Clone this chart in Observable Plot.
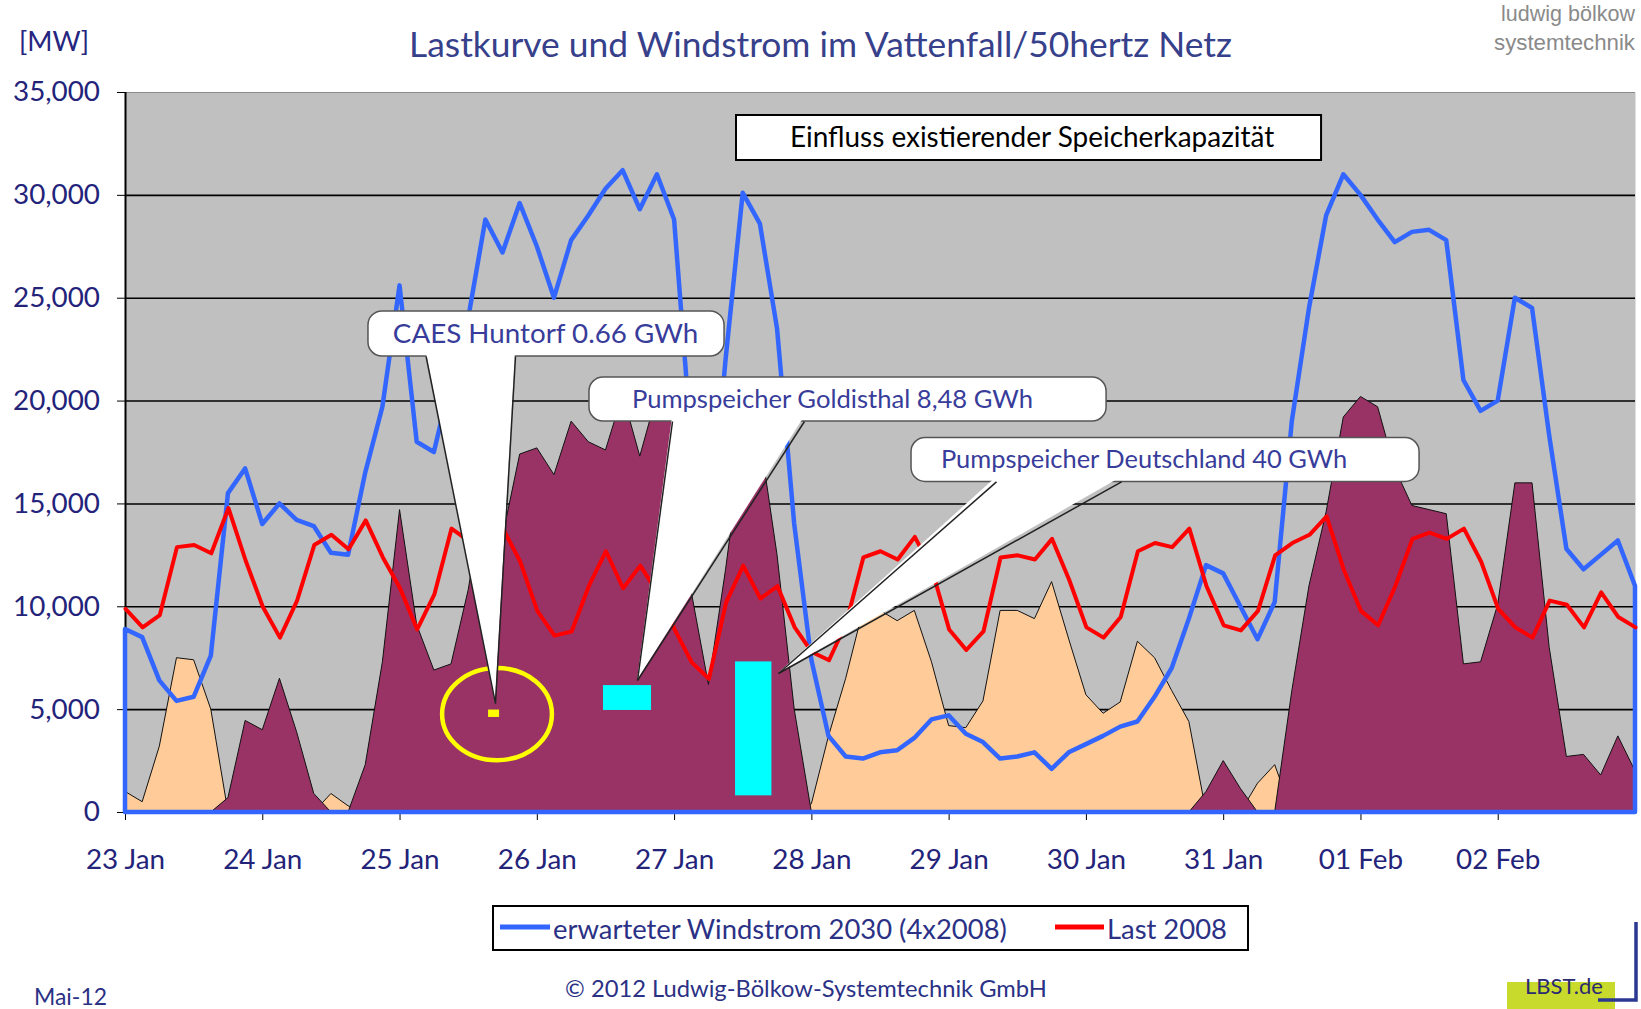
<!DOCTYPE html>
<html><head><meta charset="utf-8">
<script src="https://cdn.jsdelivr.net/npm/d3@7"></script>
<script src="https://cdn.jsdelivr.net/npm/@observablehq/plot@0.6"></script>
<style>
html,body{margin:0;padding:0;background:#fff;}
#page{width:1641px;height:1009px;overflow:hidden;position:relative;background:#fff;}
svg{display:block;}
#chart [aria-label^="x-axis"] text, #chart [aria-label^="y-axis"] text{fill:#23237a;}
</style></head><body>
<div id="page">
<svg id="header" width="1641" height="70"></svg>
<div id="chart"></div>
<svg id="footer" width="1641" height="127"></svg>
</div>
<script>
// ---------------- data ----------------
const startDay = Date.UTC(2008, 0, 23);
const stepHours = 3;
const xTickLabels = ["23 Jan","24 Jan","25 Jan","26 Jan","27 Jan","28 Jan","29 Jan","30 Jan","31 Jan","01 Feb","02 Feb"];
const yTickValues = [0, 5000, 10000, 15000, 20000, 25000, 30000, 35000];

// erwarteter Windstrom 2030 (4x2008), MW, every 3 h from 23 Jan 00:00
const windMW = [
  8900, 8500, 6400, 5400, 5600, 7600, 15500, 16700,
  14000, 15000, 14200, 13900, 12600, 12500, 16500, 19700,
  25600, 18000, 17500, 21000, 24000, 28800, 27200, 29600,
  27500, 25000, 27800, 29000, 30300, 31200, 29300, 31000,
  28800, 18000, 12700, 22000, 30100, 28600, 23500, 14000,
  7400, 3700, 2700, 2600, 2900, 3000, 3600, 4500,
  4700, 3800, 3400, 2600, 2700, 2900, 2100, 2900,
  3300, 3700, 4150, 4400, 5600, 7000, 9400, 12000,
  11600, 10000, 8400, 10200, 19000, 24500, 29000, 31000,
  30000, 28800, 27700, 28200, 28300, 27800, 21000, 19500,
  20000, 25000, 24500, 18300, 12800, 11800, 12500, 13200,
  11000
];
// Last 2008, MW
const loadMW = [
  9900, 9000, 9600, 12900, 13000, 12600, 14800, 12250,
  10000, 8500, 10300, 13000, 13500, 12800, 14200, 12400,
  10900, 8900, 10600, 13800, 13200, 13000, 13800, 12200,
  9800, 8600, 8800, 11000, 12700, 10900, 12000, 10700,
  8900, 7300, 6500, 10200, 12000, 10400, 11000, 9000,
  7800, 7400, 9200, 12400, 12700, 12300, 13400, 11800,
  8900, 7900, 8800, 12400, 12500, 12300, 13300, 11300,
  9000, 8500, 9500, 12700, 13100, 12900, 13800, 11000,
  9100, 8850, 9800, 12500, 13100, 13500, 14400, 11800,
  9800, 9100, 11000, 13300, 13600, 13300, 13800, 12200,
  9900, 9000, 8500, 10300, 10100, 9000, 10700, 9500,
  9000
];

// storage capacities drawn as energy blocks (day offsets, MW)
const storageBars = [
  {name: "Pumpspeicher Goldisthal 8,48 GWh", d1: 3.482, d2: 3.832, mw1: 4960, mw2: 6170},
  {name: "Pumpspeicher Deutschland 40 GWh", d1: 4.444, d2: 4.709, mw1: 810, mw2: 7320}
];
const caesBlock = [{name: "CAES Huntorf 0.66 GWh", d1: 2.645, d2: 2.725, mw1: 4620, mw2: 4980}];
const caesRing = {d: 2.71, mw: 4760, rd: 0.40, rmw: 2240};

// annotation callouts (day offsets, MW)
const callouts = [
  {id: 0, label: "CAES Huntorf 0.66 GWh", d1: 1.770, d2: 4.364, mwTop: 24355, mwBot: 22167, textD: 3.06, baseD1: 2.19, baseD2: 2.841, tipD: 2.695, tipMW: 5300},
  {id: 1, label: "Pumpspeicher Goldisthal 8,48 GWh", d1: 3.380, d2: 7.147, mwTop: 21146, mwBot: 19007, textD: 5.15, baseD1: 3.985, baseD2: 4.946, tipD: 3.730, tipMW: 6417},
  {id: 2, label: "Pumpspeicher Deutschland 40 GWh", d1: 5.726, d2: 9.427, mwTop: 18205, mwBot: 16071, textD: 7.42, baseD1: 6.345, baseD2: 7.256, tipD: 4.757, tipMW: 6757}
];
const headline = [{label: "Einfluss existierender Speicherkapazität", d1: 4.451, d2: 8.713, mwTop: 33882, mwBot: 31695, textD: 6.604}];

const titleText = "Lastkurve und Windstrom im Vattenfall/50hertz Netz";
const legendItems = ["erwarteter Windstrom 2030 (4x2008)", "Last 2008"];

// ---------------- styles ----------------
const FONT = "Lato, 'Noto Sans', sans-serif";
const SANS = "'Liberation Sans', Arial, sans-serif";
const NAVY = "#2b3185";
const textWidths = {
  "CAES Huntorf 0.66 GWh": 306,
  "Pumpspeicher Goldisthal 8,48 GWh": 402,
  "Pumpspeicher Deutschland 40 GWh": 407,
  "Einfluss existierender Speicherkapazität": 485
};

const ns = "http://www.w3.org/2000/svg";
const ctx = document.createElement("canvas").getContext("2d");
function fitSize(text, width, family = FONT, weight = "normal") {
  ctx.font = `${weight} 100px ${family}`;
  return 100 * width / ctx.measureText(text).width;
}
function addText(svg, o) {
  const t = document.createElementNS(ns, "text");
  t.textContent = o.text;
  t.setAttribute("x", o.x); t.setAttribute("y", o.y);
  t.setAttribute("text-anchor", o.anchor || "start");
  t.setAttribute("font-family", o.family || FONT);
  t.setAttribute("font-size", o.size);
  if (o.weight) t.setAttribute("font-weight", o.weight);
  t.setAttribute("fill", o.fill || "#000");
  svg.appendChild(t);
  return t;
}
function addEl(svg, tag, attrs) {
  const e = document.createElementNS(ns, tag);
  for (const k in attrs) e.setAttribute(k, attrs[k]);
  svg.appendChild(e);
  return e;
}

// ---------------- header ----------------
const header = document.getElementById("header");
addText(header, {text: "[MW]", x: 19, y: 51, size: fitSize("[MW]", 70), fill: "#262680"});
addText(header, {text: titleText, x: 820.5, y: 57, anchor: "middle", size: fitSize(titleText, 825), fill: "#37408a"});
addText(header, {text: "ludwig bölkow", x: 1635, y: 21, anchor: "end", family: SANS, size: fitSize("ludwig bölkow", 134, SANS), fill: "#8a8a8a"});
addText(header, {text: "systemtechnik", x: 1635, y: 50, anchor: "end", family: SANS, size: fitSize("systemtechnik", 141, SANS), fill: "#8a8a8a"});

// ---------------- chart ----------------
const day = d => new Date(startDay + d * 864e5);
const rows = windMW.map((w, i) => ({
  t: new Date(startDay + i * stepHours * 36e5),
  wind: w, load: loadMW[i],
  surplus: Math.max(w - loadMW[i], 0),
  deficit: Math.max(loadMW[i] - w, 0)
}));
const wedgePts = callouts.flatMap(c => [
  {id: c.id, mw: c.mwBot + 220, xa: day(c.baseD1), xb: day(c.baseD2)},
  {id: c.id, mw: c.tipMW, xa: day(c.tipD), xb: day(c.tipD)}
]);

const Fx = fitSize("23 Jan", 80);
const Fy = fitSize("35,000", 87);
const padX = 868 - 820 - 0.71 * Fx;

const W = 1641, H = 812, ML = 125, MR = 6, MT = 22, MB = 70;
const fallbackX = d3.scaleUtc().domain([day(0), day(11)]).range([ML, W - MR]);
const fallbackY = d3.scaleLinear().domain([0, 35000]).range([H - MB, MT]);

function ringMark(index, scales) {
  const X = scales && typeof scales.x === "function" ? scales.x : fallbackX;
  const Y = scales && typeof scales.y === "function" ? scales.y : fallbackY;
  const cx = X(day(caesRing.d)), cy = Y(caesRing.mw);
  const e = document.createElementNS(ns, "ellipse");
  e.setAttribute("cx", cx); e.setAttribute("cy", cy);
  e.setAttribute("rx", Math.abs(X(day(caesRing.d + caesRing.rd)) - cx));
  e.setAttribute("ry", Math.abs(Y(caesRing.mw + caesRing.rmw) - cy));
  e.setAttribute("fill", "none"); e.setAttribute("stroke", "#ffff00"); e.setAttribute("stroke-width", 4.5);
  return e;
}

const calloutTexts = callouts.map(c => Plot.text([c], {
  x: d => day(d.textD), y: d => (d.mwTop + d.mwBot) / 2, text: "label",
  fill: "#383c9a", fontSize: fitSize(c.label, textWidths[c.label]), textAnchor: "middle"
}));

const chart = Plot.plot({
  width: W, height: H, marginLeft: ML, marginRight: MR, marginTop: MT, marginBottom: MB,
  style: {fontFamily: FONT, fontSize: Fy + "px", color: "#000", background: "transparent", overflow: "visible"},
  x: {type: "utc", domain: [day(0), day(11)], ticks: xTickLabels.map((_, i) => day(i)),
      tickFormat: d => xTickLabels[Math.round((+d - startDay) / 864e5)], tickSize: 8, tickPadding: padX, label: null},
  y: {domain: [0, 35000], ticks: yTickValues, tickFormat: d3.format(","), tickSize: 8, tickPadding: 17.5, label: null},
  marks: [
    Plot.frame({fill: "#c0c0c0", stroke: "none"}),
    Plot.ruleY([35000], {stroke: "#8c8c8c", strokeWidth: 1}),
    Plot.ruleY(yTickValues.filter(v => v > 0 && v < 35000), {stroke: "#000", strokeWidth: 1.6}),
    Plot.ruleX([day(0)], {stroke: "#000", strokeWidth: 2}),
    Plot.areaY(rows, {x: "t", y: "deficit", fill: "#ffcc99", stroke: "#111", strokeWidth: 1}),
    Plot.areaY(rows, {x: "t", y: "surplus", fill: "#993366", stroke: "#111", strokeWidth: 1}),
    Plot.areaY(rows, {x: "t", y: "wind", fill: "none", stroke: "#3366ff", strokeWidth: 4.5, strokeLinejoin: "round"}),
    Plot.line(rows, {x: "t", y: "load", stroke: "#ff0000", strokeWidth: 4, strokeLinejoin: "round"}),
    Plot.rect(storageBars, {x1: d => day(d.d1), x2: d => day(d.d2), y1: "mw1", y2: "mw2", fill: "#00ffff"}),
    ringMark,
    Plot.rect(caesBlock, {x1: d => day(d.d1), x2: d => day(d.d2), y1: "mw1", y2: "mw2", fill: "#ffff00"}),
    Plot.rect(callouts, {x1: d => day(d.d1), x2: d => day(d.d2), y1: "mwBot", y2: "mwTop", fill: "#fff", stroke: "#555", strokeWidth: 1.5, rx: 14}),
    Plot.areaX(wedgePts, {y: "mw", x1: "xa", x2: "xb", z: "id", fill: "#fff"}),
    Plot.link(callouts, {x1: d => day(d.baseD1), y1: "mwBot", x2: d => day(d.tipD), y2: "tipMW", stroke: "#222", strokeWidth: 1.5}),
    Plot.link(callouts, {x1: d => day(d.baseD2), y1: "mwBot", x2: d => day(d.tipD), y2: "tipMW", stroke: "#222", strokeWidth: 1.5}),
    ...calloutTexts,
    Plot.rect(headline, {x1: d => day(d.d1), x2: d => day(d.d2), y1: "mwBot", y2: "mwTop", fill: "#fff", stroke: "#000", strokeWidth: 2}),
    Plot.text(headline, {x: d => day(d.textD), y: d => (d.mwTop + d.mwBot) / 2, text: "label", fill: "#000",
      fontSize: fitSize(headline[0].label, textWidths[headline[0].label]), textAnchor: "middle"})
  ]
});
document.getElementById("chart").appendChild(chart);
const styleEl = document.createElement("style");
styleEl.textContent = `#chart [aria-label^="x-axis"] text{font-size:${Fx}px;} #chart [aria-label^="y-axis"] text{font-size:${Fy}px;}`;
document.head.appendChild(styleEl);

// ---------------- footer (legend + credits) ----------------
const footer = document.getElementById("footer");
const oy = 882;
addEl(footer, "rect", {x: 493, y: 906 - oy, width: 755, height: 44, fill: "#fff", stroke: "#000", "stroke-width": 2});
addEl(footer, "line", {x1: 500, x2: 550, y1: 927 - oy, y2: 927 - oy, stroke: "#3366ff", "stroke-width": 5});
addText(footer, {text: legendItems[0], x: 553, y: 939 - oy, size: fitSize(legendItems[0], 455), fill: NAVY});
addEl(footer, "line", {x1: 1055, x2: 1104, y1: 927 - oy, y2: 927 - oy, stroke: "#ff0000", "stroke-width": 5});
addText(footer, {text: legendItems[1], x: 1107, y: 939 - oy, size: fitSize(legendItems[1], 120), fill: NAVY});
const copyText = "© 2012 Ludwig-Bölkow-Systemtechnik GmbH";
addText(footer, {text: copyText, x: 806, y: 997 - oy, anchor: "middle", size: fitSize(copyText, 482), fill: NAVY});
addText(footer, {text: "Mai-12", x: 34, y: 1005 - oy, size: fitSize("Mai-12", 73), fill: NAVY});
addEl(footer, "rect", {x: 1507, y: 982 - oy, width: 108, height: 27, fill: "#c8da2c"});
addText(footer, {text: "LBST.de", x: 1525, y: 994 - oy, size: fitSize("LBST.de", 78), fill: "#2a2a70"});
addEl(footer, "polyline", {points: `1636,${922 - oy} 1636,${1000 - oy} 1598,${1000 - oy}`, fill: "none", stroke: "#2b3990", "stroke-width": 3.5});
</script>
</body></html>
